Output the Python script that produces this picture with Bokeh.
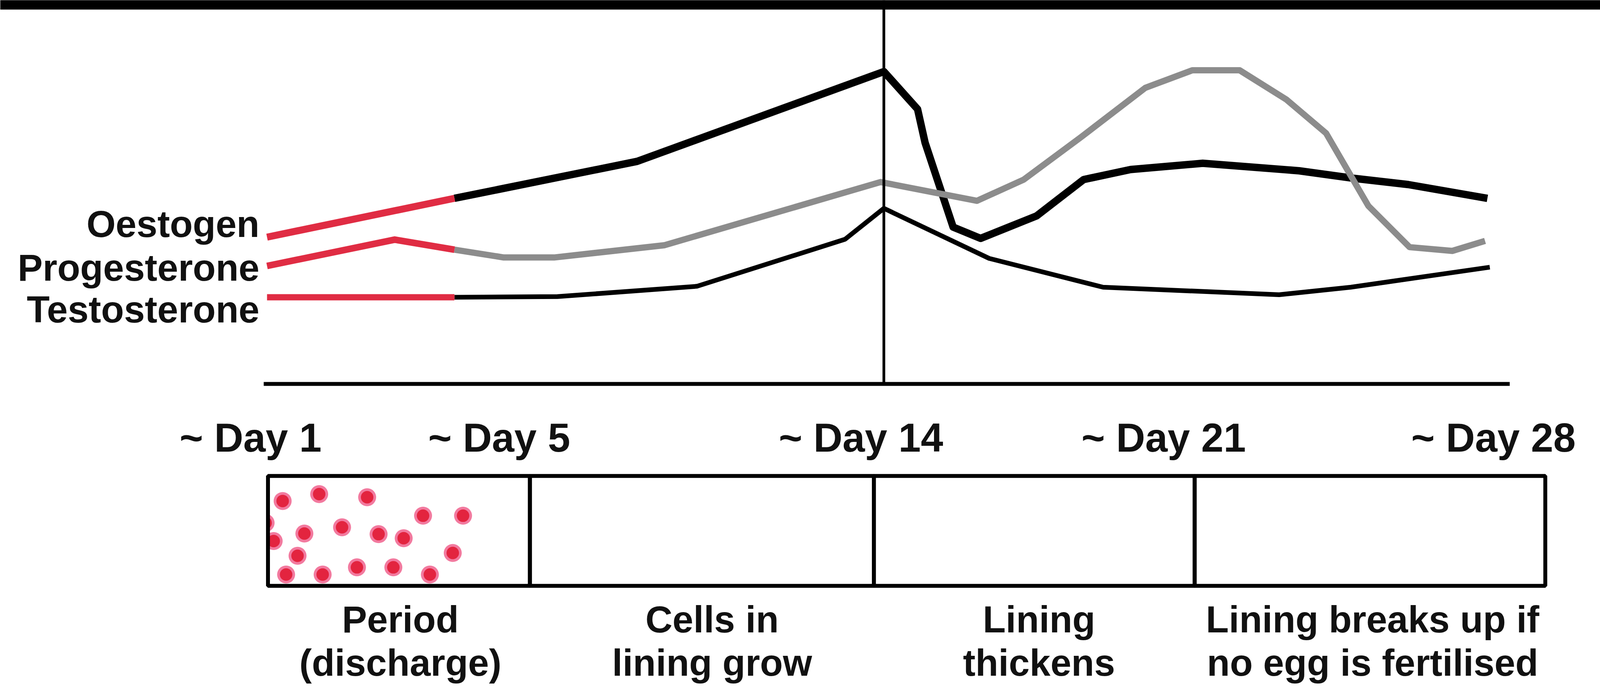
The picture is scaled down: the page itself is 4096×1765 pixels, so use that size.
import numpy as np
from bokeh.plotting import figure
from bokeh.models import Range1d
from bokeh.embed import file_html
from bokeh.resources import INLINE
from bokeh.core.properties import value

# ---------------- data (x in cycle days, y in relative hormone level) ----------------
period_end_day = 4.95

oest_day = [1.0, 4.95, 8.80, 14.0, 14.71, 14.87, 15.46, 16.04, 17.22, 18.21, 19.20,
            20.72, 22.75, 23.90, 25.05, 26.72]
oest_lvl = [46.9, 59.3, 71.1, 99.8, 87.8, 77.0, 50.1, 46.5, 53.7, 65.3, 68.5,
            70.5, 68.1, 65.7, 63.7, 59.3]

prog_day = [1.0, 3.69, 4.95, 5.99, 7.05, 9.37, 13.93, 15.96, 16.95, 18.16, 19.51,
            20.50, 21.50, 22.48, 23.32, 24.21, 25.08, 25.98, 26.67]
prog_lvl = [37.7, 46.1, 42.9, 40.4, 40.4, 44.3, 64.5, 58.5, 65.3, 78.9, 94.6,
            100.2, 100.2, 90.9, 80.1, 56.9, 43.7, 42.5, 45.7]

test_day = [1.0, 4.95, 7.12, 10.06, 13.18, 14.0, 16.22, 18.62, 22.33, 23.84, 26.77]
test_lvl = [27.7, 27.7, 27.9, 31.2, 46.2, 56.1, 40.1, 30.9, 28.5, 30.9, 37.3]

hormone_names = ["Oestogen", "Progesterone", "Testosterone"]
hormone_label_lvl = [46.9, 32.9, 19.6]

day_labels = ["~ Day 1", "~ Day 5", "~ Day 14", "~ Day 21", "~ Day 28"]
day_label_right = [2.15, 7.39, 15.25, 21.63, 28.58]

ovulation_day = 14.0
phase_bounds = [1.02, 6.54, 13.79, 20.55, 27.94]
phase_line1 = ["Period", "Cells in", "Lining", "Lining breaks up if"]
phase_line2 = ["(discharge)", "lining grow", "thickens", "no egg is fertilised"]
phase_text_center = [3.81, 10.38, 17.27, 24.30]

dot_day = [1.329, 2.099, 3.110, 4.288, 5.131, 0.97, 1.787, 2.581, 3.351, 3.880,
           1.14, 1.643, 4.914, 1.402, 2.172, 2.895, 3.662, 4.432]
dot_lvl = [-37.4, -35.2, -36.2, -42.1, -42.1, -44.4, -47.8, -45.8, -48.0, -49.3,
           -50.2, -54.9, -54.0, -60.9, -60.9, -58.6, -58.6, -60.9]

# ---------------- layout ----------------
W, H = 4096, 1765
X0, X1 = -4.6237, 29.097
Y0, Y1 = -97.53, 122.60
axis_start, axis_end = 0.93, 27.19
box_top, box_bottom = -29.4, -64.5
day_label_base = -21.65
line1_base, line2_base = -79.5, -93.3

RED = "#e02c43"
GRAY = "#8c8c8c"
BLACK = "#000000"
TXT = "#111111"
FONT = value("Liberation Sans")

p = figure(width=W, height=H, x_range=Range1d(X0, X1), y_range=Range1d(Y0, Y1),
           x_axis_type=None, y_axis_type=None, output_backend="svg",
           toolbar_location=None, min_border=0)
p.grid.visible = False
p.outline_line_color = None
p.background_fill_color = "white"
p.border_fill_color = "white"


def split(days, lvls):
    d = np.asarray(days)
    v = np.asarray(lvls)
    a = d <= period_end_day + 1e-9
    b = d >= period_end_day - 1e-9
    return d[a], v[a], d[b], v[b]


series = [
    (oest_day, oest_lvl, BLACK, 18, 19),
    (prog_day, prog_lvl, GRAY, 17, 16),
    (test_day, test_lvl, BLACK, 16, 12),
]
for days, lvls, col, w_red, w_main in series:
    rd, rv, md, mv = split(days, lvls)
    p.line(md, mv, line_color=col, line_width=w_main, line_join="round", line_cap="butt")
    p.line(rd, rv, line_color=RED, line_width=w_red, line_join="round", line_cap="butt")

# baseline axis and ovulation line
p.segment(x0=[axis_start], y0=[0], x1=[axis_end], y1=[0], line_color=BLACK, line_width=10)
p.segment(x0=[ovulation_day], y0=[0], x1=[ovulation_day], y1=[Y1], line_color=BLACK, line_width=7)

# top bar
p.quad(left=[X0], right=[X1], top=[Y1 + 1], bottom=[119.6], fill_color=BLACK, line_color=None)


def txt(x, y, t, size, align):
    p.text(x=x, y=y, text=t, text_font=FONT, text_font_style="bold",
           text_font_size=f"{size}px", text_align=align, text_baseline="alphabetic",
           text_color=TXT, y_offset=-round(0.35 * size))


# hormone labels
txt([0.84] * 3, hormone_label_lvl, hormone_names, 96, "right")

# day labels
txt(day_label_right, [day_label_base] * len(day_labels), day_labels, 103, "right")

# period dots
p.scatter(dot_day, dot_lvl, size=46, fill_color="#f27a9f", line_color=None)
p.scatter(dot_day, dot_lvl, size=32, fill_color="#e3243f", line_color=None)
# clip dots at the box's left edge
p.quad(left=[X0], right=[phase_bounds[0]], top=[box_top], bottom=[box_bottom],
       fill_color="white", line_color=None)

# phase boxes
p.quad(left=phase_bounds[:-1], right=phase_bounds[1:], top=[box_top] * 4,
       bottom=[box_bottom] * 4, fill_color=None, line_color=BLACK, line_width=10)

# phase descriptions
txt(phase_text_center, [line1_base] * 4, phase_line1, 96, "center")
txt(phase_text_center, [line2_base] * 4, phase_line2, 96, "center")

open("out.html", "w").write(file_html(p, INLINE))
